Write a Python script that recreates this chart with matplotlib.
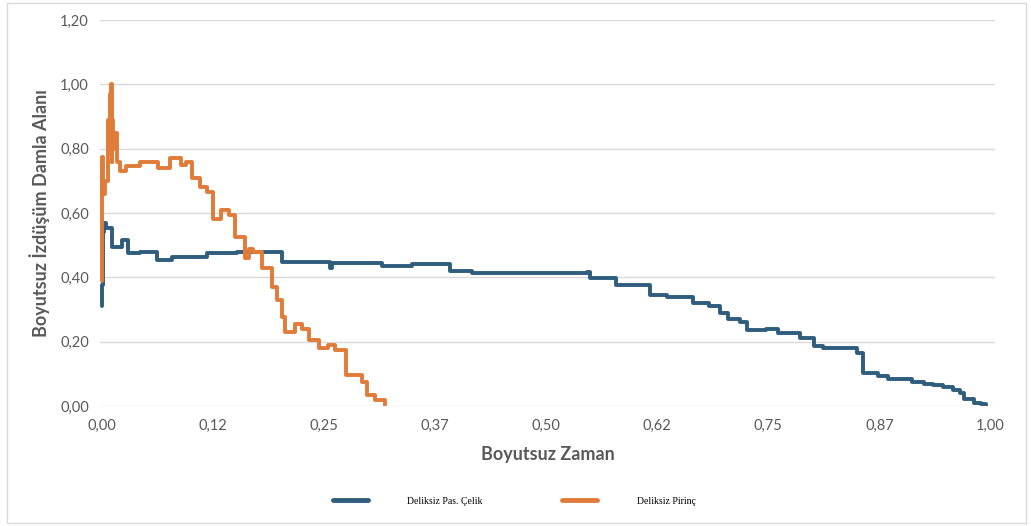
import matplotlib
matplotlib.use("Agg")
import matplotlib.pyplot as plt
from matplotlib.patches import Rectangle

# Dimensionless time / projected droplet area, step-wise measurements
celik_t = [0.000, 0.000, 0.001, 0.002, 0.005, 0.011, 0.023, 0.029, 0.043, 0.062, 0.079,
           0.118, 0.152, 0.203, 0.257, 0.259, 0.275, 0.315, 0.349, 0.392, 0.417, 0.546,
           0.549, 0.565, 0.579, 0.591, 0.617, 0.636, 0.665, 0.683, 0.696, 0.705, 0.718,
           0.726, 0.747, 0.761, 0.786, 0.801, 0.812, 0.850, 0.856, 0.873, 0.885, 0.912,
           0.925, 0.935, 0.947, 0.958, 0.966, 0.970, 0.981, 0.989, 0.995]
celik_a = [0.310, 0.376, 0.540, 0.570, 0.555, 0.495, 0.516, 0.475, 0.480, 0.454, 0.462,
           0.475, 0.478, 0.448, 0.430, 0.444, 0.444, 0.435, 0.440, 0.420, 0.413, 0.416,
           0.399, 0.399, 0.376, 0.376, 0.345, 0.338, 0.320, 0.310, 0.289, 0.270, 0.260,
           0.236, 0.240, 0.226, 0.210, 0.187, 0.180, 0.164, 0.103, 0.093, 0.085, 0.074,
           0.070, 0.065, 0.058, 0.050, 0.040, 0.022, 0.010, 0.005, 0.000]

pirinc_t = [0.000, 0.000, 0.001, 0.004, 0.007, 0.009, 0.010, 0.011, 0.012, 0.013, 0.015,
            0.017, 0.020, 0.027, 0.043, 0.063, 0.077, 0.089, 0.095, 0.102, 0.110, 0.118,
            0.125, 0.134, 0.143, 0.150, 0.161, 0.166, 0.170, 0.180, 0.191, 0.197, 0.203,
            0.206, 0.217, 0.225, 0.233, 0.244, 0.255, 0.262, 0.275, 0.293, 0.298, 0.307,
            0.319]
pirinc_a = [0.390, 0.775, 0.660, 0.700, 0.890, 0.970, 1.000, 0.760, 0.890, 0.800, 0.850,
            0.760, 0.730, 0.745, 0.760, 0.740, 0.770, 0.750, 0.760, 0.710, 0.680, 0.665,
            0.580, 0.610, 0.595, 0.525, 0.460, 0.487, 0.480, 0.430, 0.370, 0.330, 0.277,
            0.230, 0.255, 0.240, 0.205, 0.180, 0.190, 0.175, 0.097, 0.075, 0.035, 0.020,
            0.003]

x_ticks = [0.0, 0.125, 0.25, 0.375, 0.5, 0.625, 0.75, 0.875, 1.0]
x_tick_labels = ["0,00", "0,12", "0,25", "0,37", "0,50", "0,62", "0,75", "0,87", "1,00"]
y_ticks = [0.0, 0.2, 0.4, 0.6, 0.8, 1.0, 1.2]
y_tick_labels = ["0,00", "0,20", "0,40", "0,60", "0,80", "1,00", "1,20"]

BLUE = "#2e5d7d"
ORANGE = "#e07b39"
GRID = "#d9d9d9"
TEXT = "#595959"

plt.rcParams["font.family"] = ["Lato", "DejaVu Sans"]

fig = plt.figure(figsize=(10.31, 5.26), dpi=100)
fig.patches.append(Rectangle((0.007, 0.006), 0.988, 0.988, transform=fig.transFigure,
                             fill=False, edgecolor="#d9d9d9", linewidth=1.0))

ax = fig.add_axes([100 / 1031, 0.2281, 895 / 1031, 0.7338])
ax.plot(celik_t, celik_a, drawstyle="steps-post", color=BLUE, linewidth=2.8,
        label="Deliksiz Pas. Çelik", solid_capstyle="round", zorder=3)
ax.plot(pirinc_t, pirinc_a, drawstyle="steps-post", color=ORANGE, linewidth=2.8,
        label="Deliksiz Pirinç", solid_capstyle="round", zorder=3)

ax.set_xlim(-0.002, 1.005)
ax.set_ylim(0, 1.2)
ax.set_xticks(x_ticks)
ax.set_xticklabels(x_tick_labels)
ax.set_yticks(y_ticks)
ax.set_yticklabels(y_tick_labels)
ax.tick_params(axis="both", length=0, labelsize=10.5, labelcolor=TEXT)
ax.tick_params(axis="x", pad=9)
ax.tick_params(axis="y", pad=8)
ax.grid(axis="y", color=GRID, linewidth=1.0, zorder=0)
for side in ax.spines.values():
    side.set_visible(False)
ax.set_axisbelow(True)

ax.set_xlabel("Boyutsuz Zaman", fontsize=13, fontweight="bold", color=TEXT, labelpad=10)
ax.set_ylabel("Boyutsuz İzdüşüm Damla Alanı", fontsize=13, fontweight="bold", color=TEXT,
              labelpad=7)

leg = fig.legend(loc="center", bbox_to_anchor=(0.4985, 0.047), ncol=2, frameon=False,
                 prop={"family": "Liberation Serif", "size": 7},
                 handlelength=3.6, handletextpad=4.1, columnspacing=8.1)
for line in leg.get_lines():
    line.set_linewidth(3.5)
    line.set_solid_capstyle("round")

fig.savefig("out.png", dpi=100)
